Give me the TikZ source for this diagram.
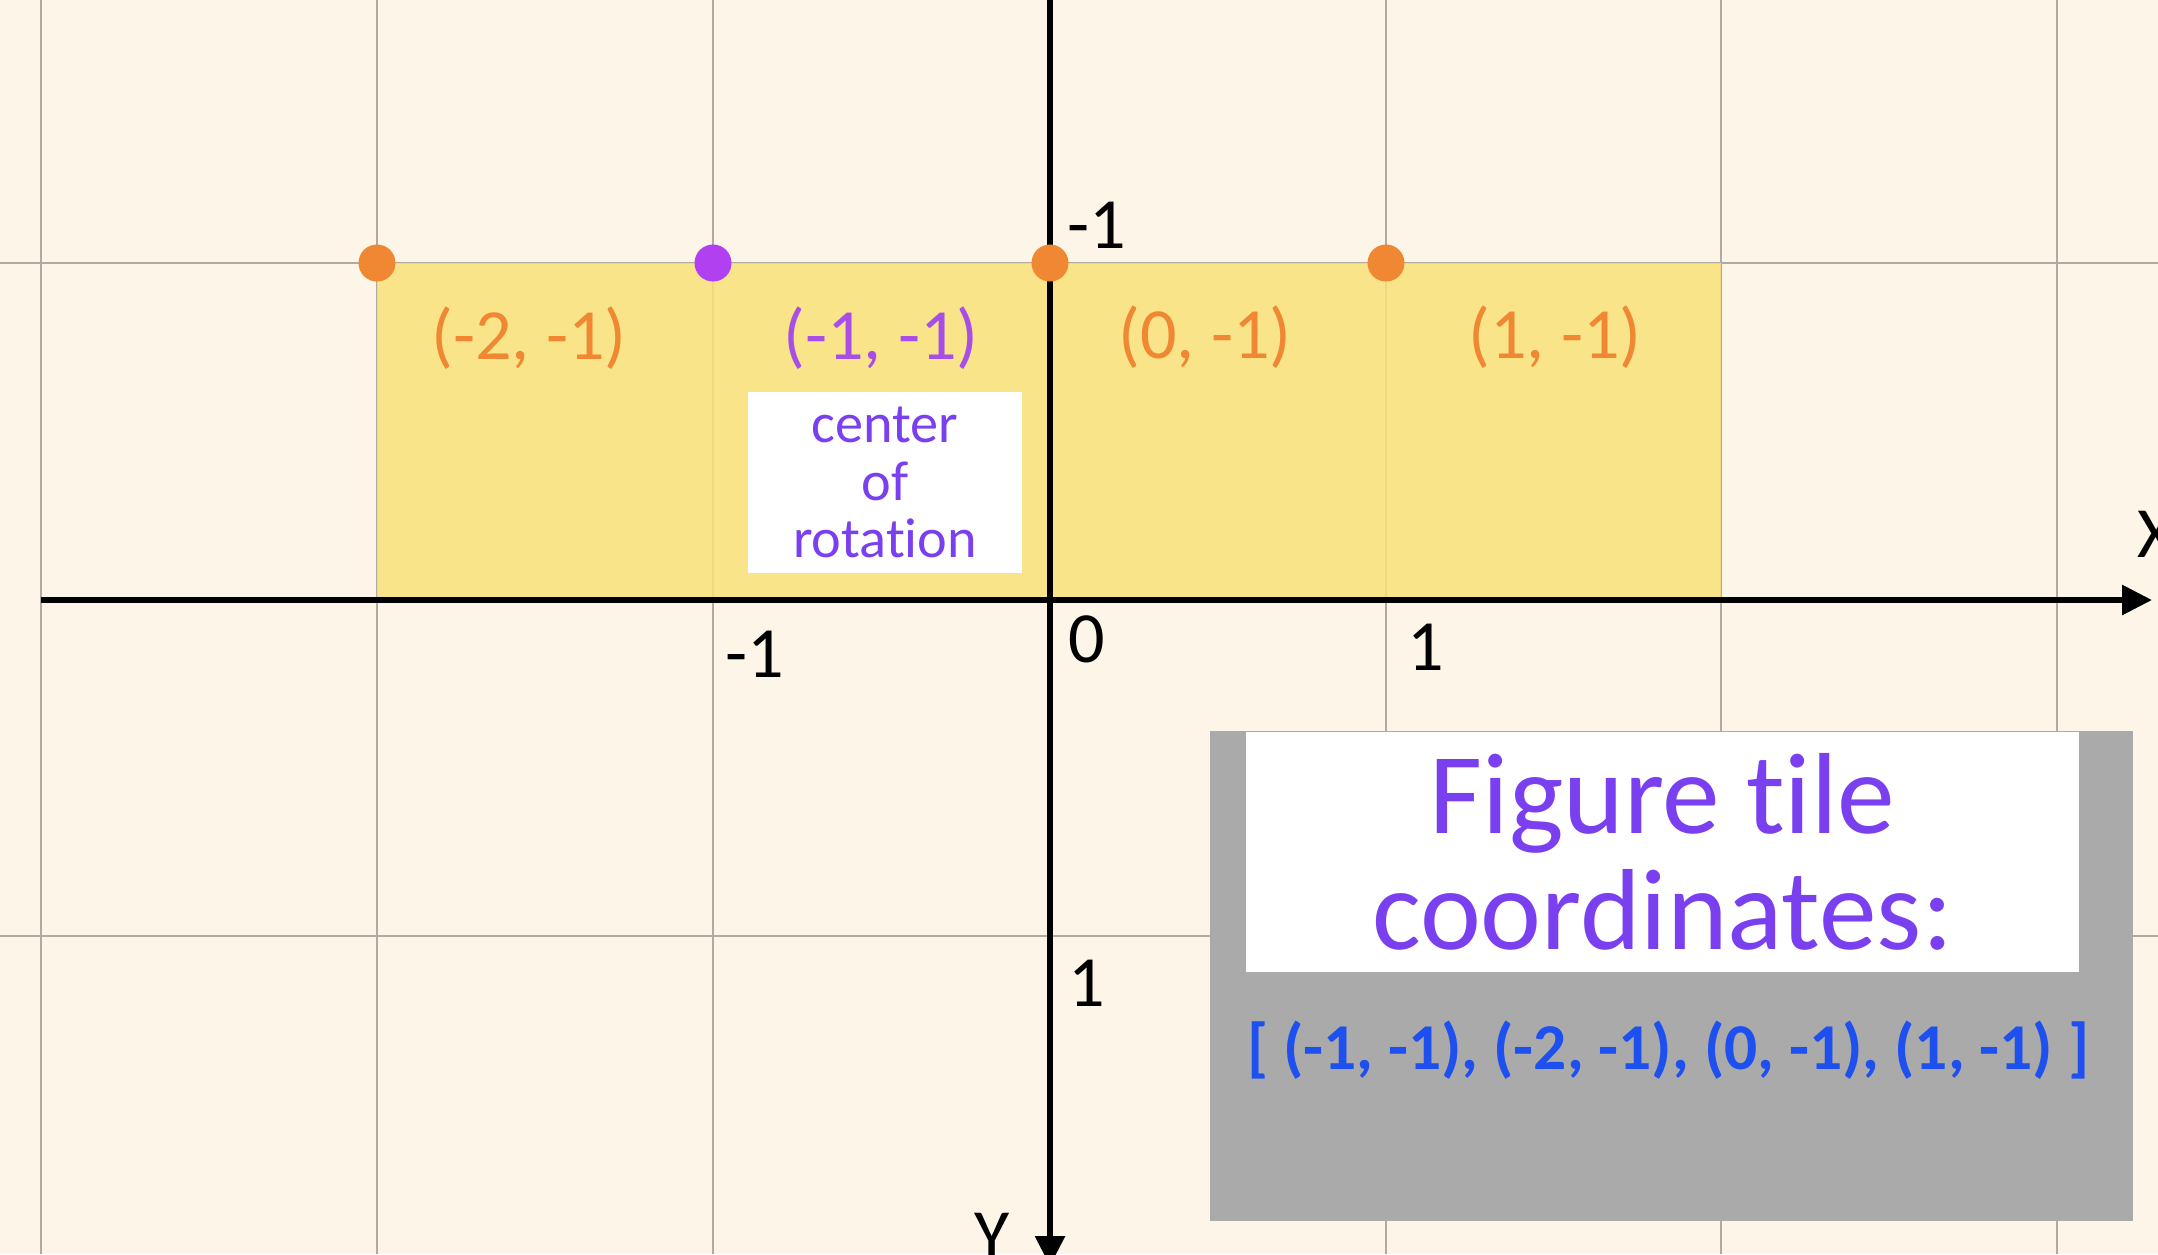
\documentclass[tikz,border=0pt]{standalone}
\usepackage{fontspec}
\setmainfont{Carlito}[Ligatures={NoCommon}]
\usetikzlibrary{arrows.meta}
\definecolor{bgc}{RGB}{253,246,232}
\definecolor{gridc}{RGB}{175,170,163}
\definecolor{tilec}{RGB}{250,226,121}
\definecolor{orangec}{RGB}{240,135,50}
\definecolor{dotpurple}{RGB}{176,64,240}
\definecolor{lblpurple}{RGB}{168,78,230}
\definecolor{txtpurple}{RGB}{122,64,240}
\definecolor{listblue}{RGB}{30,80,240}
\definecolor{panelgray}{RGB}{170,170,170}
\newcommand{\nolig}{\kern0pt\relax}
\tikzset{
  gridline/.style={draw=gridc, line width=0.65pt},
  axisline/.style={draw=black, line width=1.7pt, -{Triangle[length=0.3cm,width=0.29cm]}},
  ticklbl/.style={font=\fontsize{20.5}{24}\selectfont, inner sep=0pt},
  tilelbl/.style={font=\fontsize{20.5}{24}\selectfont, inner sep=0pt, anchor=base},
  dotnode/.style={circle, minimum size=0.37cm, inner sep=0pt},
}
\begin{document}
\begin{tikzpicture}[x=0.01cm,y=-0.01cm]
\useasboundingbox (0,0) rectangle (2158,1254);
\fill[bgc] (0,0) rectangle (2158,1254);
% grid
\foreach \x in {41,377,713,1386,1721,2057} \draw[gridline] (\x,0) -- (\x,1254);
\foreach \y in {263,936} \draw[gridline] (0,\y) -- (2158,\y);
% figure tiles
\fill[tilec, fill opacity=0.85] (377,263) rectangle (1721,600);
% axes
\coordinate (xs) at (41,600);
\coordinate (xe) at (2152,600);
\coordinate (ys) at (1050,0);
\coordinate (ye) at (1050,1266);
\draw[axisline] (xs) -- (xe);
\draw[axisline] (ys) -- (ye);
% axis labels
\node[ticklbl, anchor=base west] (lxm1) at (725,677) {-1};
\node[ticklbl, anchor=base west] (lx0) at (1068,662) {0};
\node[ticklbl, anchor=base west] (lx1) at (1407,670) {1};
\node[ticklbl, anchor=base west] (lym1) at (1067,248) {-1};
\node[ticklbl, anchor=base west] (ly1) at (1068,1006) {1};
\node[ticklbl, anchor=base west] (lX) at (2137,557) {X};
\node[ticklbl, anchor=base] (lY) at (992,1259) {Y};
% tile labels
\node[tilelbl, text=orangec] (t1) at (529,359) {(-2, -1)};
\node[tilelbl, text=lblpurple] (t2) at (881,359) {(-1, -1)};
\node[tilelbl, text=orangec] (t3) at (1205,358) {(0, -1)};
\node[tilelbl, text=orangec] (t4) at (1555,358) {(1, -1)};
% center of rotation box
\node[fill=white, minimum width=2.74cm, minimum height=1.81cm, inner sep=0pt, align=center, text=txtpurple, font=\fontsize{16}{16.3}\selectfont] (cor) at (885,482.5) {center\\of\\rotat\nolig ion};
% dots
\node[dotnode, fill=orangec] (d1) at (377,263) {};
\node[dotnode, fill=dotpurple] (d2) at (713,263) {};
\node[dotnode, fill=orangec] (d3) at (1050,263) {};
\node[dotnode, fill=orangec] (d4) at (1386,263) {};
% panel
\node[fill=panelgray, minimum width=9.23cm, minimum height=4.90cm, inner sep=0pt, anchor=north west] (panel) at (1209,730) {};
\node[fill=white, minimum width=8.33cm, minimum height=2.40cm, inner sep=0pt, align=center, text=txtpurple, font=\fontsize{32.8}{33}\selectfont] (title) at (1662.5,852) {Figure t\nolig ile\\coordinates:};
\node[text=listblue, font=\bfseries\fontsize{18.6}{20}\selectfont, inner sep=0pt, anchor=base] (list) at (1668,1069) {[ (-1, -1), (-2, -1), (0, -1), (1, -1) ]};
\end{tikzpicture}
\end{document}
